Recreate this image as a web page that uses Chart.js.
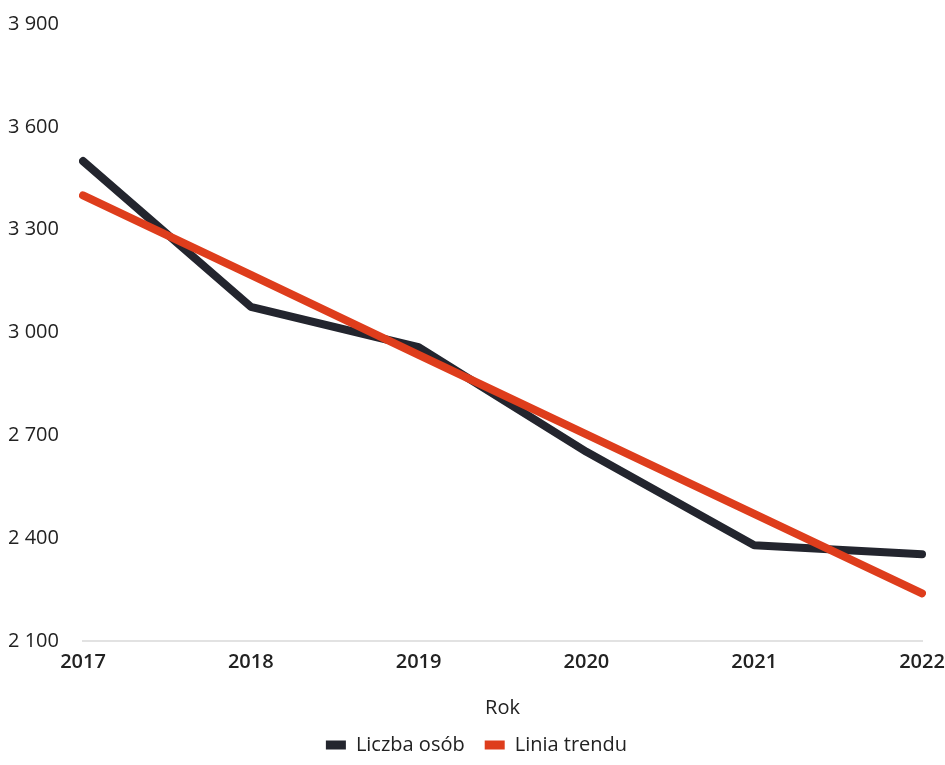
<!DOCTYPE html>
<html>
<head>
<meta charset="utf-8">
<script src="https://cdn.jsdelivr.net/npm/chart.js@4.4.1/dist/chart.umd.min.js"></script>
<style>
  html, body { margin:0; padding:0; background:#fff; }
  #wrap { width:945px; height:765px; }
</style>
</head>
<body>
<div id="wrap"><canvas id="chart" width="945" height="765"></canvas></div>
<script>
// values
const years = ['2017', '2018', '2019', '2020', '2021', '2022'];
const liczbaOsob = [3500, 3075, 2957, 2652, 2379, 2353];
const liniaTrendu = [3400, 3168, 2935, 2703, 2471, 2239];
const yTicks = [2100, 2400, 2700, 3000, 3300, 3600, 3900];

const FONT = "'Open Sans', sans-serif";
const fmt = v => String(v).replace(/\B(?=(\d{3})+(?!\d))/g, ' ');

const ctx = document.getElementById('chart').getContext('2d');
new Chart(ctx, {
  type: 'line',
  data: {
    labels: years,
    datasets: [
      {label:'Liczba osób', data:liczbaOsob, borderColor:'#23252e', backgroundColor:'#23252e',
       borderWidth:8, pointRadius:0, borderCapStyle:'round', borderJoinStyle:'round', order:1},
      {label:'Linia trendu', data:liniaTrendu, borderColor:'#de3d1c', backgroundColor:'#de3d1c',
       borderWidth:8, pointRadius:0, borderCapStyle:'round', borderJoinStyle:'round', order:0}
    ]
  },
  options: {
    responsive: false,
    animation: false,
    layout: { padding: { left: 8, top: 4, right: 0, bottom: 0 } },
    plugins: {
      tooltip: { enabled: false },
      legend: {
        position: 'bottom',
        labels: {
          font: { family: FONT, size: 20 },
          color: '#222',
          boxWidth: 20,
          boxHeight: 9,
          padding: 20,
          sort: (a, b) => a.datasetIndex - b.datasetIndex,
          generateLabels: chart => chart.data.datasets.map((d, i) => ({
            text: d.label, fillStyle: d.borderColor, strokeStyle: d.borderColor,
            lineWidth: 0, datasetIndex: i, hidden: false, fontColor: '#222'
          }))
        }
      }
    },
    scales: {
      x: {
        offset: false,
        afterFit: axis => { axis.paddingRight = 23; },
        grid: { display: false, drawTicks: false },
        border: { display: true, color: '#e2e2e2', width: 2 },
        ticks: { font: { family: FONT, size: 20, weight: '600' }, color: '#222', padding: 9, maxRotation: 0 },
        title: { display: true, text: 'Rok', font: { family: FONT, size: 20 }, color: '#222', padding: { top: 13, bottom: -5 } }
      },
      y: {
        min: 2100, max: 3900,
        afterBuildTicks: axis => { axis.ticks = yTicks.map(v => ({ value: v })); },
        afterFit: axis => { axis.width = 75; },
        grid: { display: false, drawTicks: false },
        border: { display: false },
        ticks: { font: { family: FONT, size: 20 }, color: '#222', crossAlign: 'far', padding: 12,
                 callback: v => fmt(v) }
      }
    }
  }
});
</script>
</body>
</html>
